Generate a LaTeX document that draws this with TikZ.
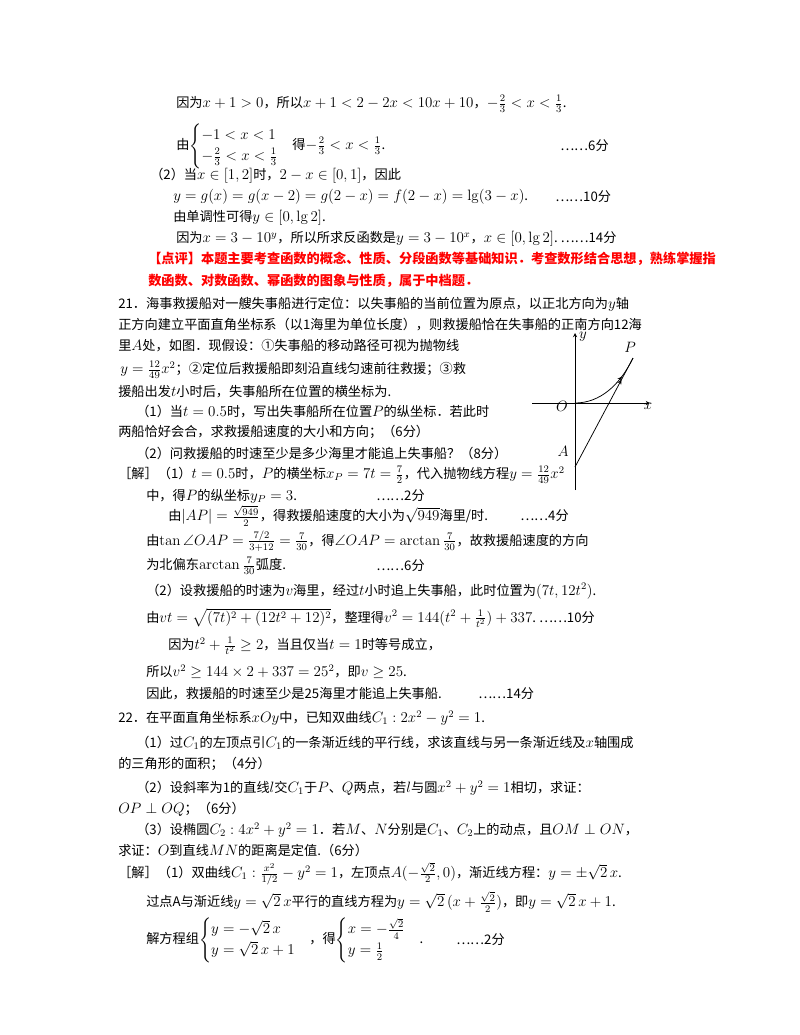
\documentclass[tikz,border=0pt]{standalone}
\usepackage{amsmath,amssymb}
\usepackage[no-math]{fontspec}
\setmainfont[Scale=0.88]{Noto Sans CJK SC}
\usetikzlibrary{decorations.markings}
\tikzset{ln/.style={anchor=west,inner sep=0pt,font=\large},
 pt/.style={anchor=west,inner sep=0pt,font=\large},
 rd/.style={ln,text=red},
 lab/.style={inner sep=0pt,font=\large\itshape\rmfamily},
 ax/.style={line width=0.5pt,-stealth}}
\begin{document}
\begin{tikzpicture}[x=0.8pt,y=-0.8pt]
\useasboundingbox (0,0) rectangle (800,1035);
\node[ln] (l1) at (176,104) {因为$x+1>0$，所以$x+1<2-2x<10x+10$，$-\tfrac23<x<\tfrac13$.};
\node[ln] (l2) at (176,146) {由$\begin{cases}-1<x<1\\ -\tfrac23<x<\tfrac13\end{cases}$得$-\tfrac23<x<\tfrac13$.};
\node[pt] (p2) at (560,146) {……6分};
\node[ln] (l3) at (150,176) {（2）当$x\in[1,2]$时，$2-x\in[0,1]$，因此};
\node[ln] (l4) at (173,197) {$y=g(x)=g(x-2)=g(2-x)=f(2-x)=\lg(3-x)$.};
\node[pt] (p4) at (555,197) {……10分};
\node[ln] (l5) at (173,218) {由单调性可得$y\in[0,\lg2]$.};
\node[ln] (l6) at (176,239) {因为$x=3-10^y$，所以所求反函数是$y=3-10^x$，$x\in[0,\lg2]$.~……14分};
\node[rd] (r1) at (148,259) {\textbf{【点评】本题主要考查函数的概念、性质、分段函数等基础知识．考查数形结合思想，熟练掌握指}};
\node[rd] (r2) at (148,281) {\textbf{数函数、对数函数、幂函数的图象与性质，属于中档题．}};
\node[ln] (a1) at (118,304) {21．海事救援船对一艘失事船进行定位：以失事船的当前位置为原点，以正北方向为$y$轴};
\node[ln] (a2) at (118,325) {正方向建立平面直角坐标系（以1海里为单位长度），则救援船恰在失事船的正南方向12海};
\node[ln] (a3) at (118,346) {里$A$处，如图．现假设：①失事船的移动路径可视为抛物线};
\node[ln] (a4) at (120,370) {$y=\tfrac{12}{49}x^2$；②定位后救援船即刻沿直线匀速前往救援；③救};
\node[ln] (a5) at (118,392) {援船出发$t$小时后，失事船所在位置的横坐标为.};
\node[ln] (a6) at (136,412) {（1）当$t=0.5$时，写出失事船所在位置$P$的纵坐标．若此时};
\node[ln] (a7) at (118,432) {两船恰好会合，求救援船速度的大小和方向；（6分）};
\node[ln] (a8) at (136,453) {（2）问救援船的时速至少是多少海里才能追上失事船？（8分）};
\node[ln] (b1) at (118,475) {［解］（1）$t=0.5$时，$P$的横坐标$x_P=7t=\tfrac72$，代入抛物线方程$y=\tfrac{12}{49}x^2$};
\node[ln] (b2) at (146,496) {中，得$P$的纵坐标$y_P=3$.};
\node[pt] (pb2) at (376,496) {……2分};
\node[ln] (b3) at (168,516) {由$|AP|=\tfrac{\sqrt{949}}{2}$，得救援船速度的大小为$\sqrt{949}$海里/时.};
\node[pt] (pb3) at (520,516) {……4分};
\node[ln] (b4) at (146,541) {由$\tan\angle OAP=\tfrac{7/2}{3+12}=\tfrac{7}{30}$，得$\angle OAP=\arctan\tfrac{7}{30}$，故救援船速度的方向};
\node[ln] (b5) at (146,566) {为北偏东$\arctan\tfrac{7}{30}$弧度.};
\node[pt] (pb5) at (376,566) {……6分};
\node[ln] (c1) at (146,591) {（2）设救援船的时速为$v$海里，经过$t$小时追上失事船，此时位置为$(7t,12t^2)$.};
\node[ln] (c2) at (146,618) {由$vt=\sqrt{(7t)^2+(12t^2+12)^2}$，整理得$v^2=144(t^2+\tfrac1{t^2})+337$.~……10分};
\node[ln] (c3) at (168,646) {因为$t^2+\tfrac1{t^2}\ge2$，当且仅当$t=1$时等号成立，};
\node[ln] (c4) at (146,672) {所以$v^2\ge144\times2+337=25^2$，即$v\ge25$.};
\node[ln] (c5) at (146,694) {因此，救援船的时速至少是25海里才能追上失事船.};
\node[pt] (pc5) at (478,694) {……14分};
\node[ln] (d1) at (118,718) {22．在平面直角坐标系$xOy$中，已知双曲线$C_1:2x^2-y^2=1$.};
\node[ln] (d2) at (136,743) {（1）过$C_1$的左顶点引$C_1$的一条渐近线的平行线，求该直线与另一条渐近线及$x$轴围成};
\node[ln] (d3) at (118,764) {的三角形的面积；（4分）};
\node[ln] (d4) at (136,788) {（2）设斜率为1的直线$l$交$C_1$于$P$、$Q$两点，若$l$与圆$x^2+y^2=1$相切，求证：};
\node[ln] (d5) at (118,809) {$OP\perp OQ$；（6分）};
\node[ln] (d6) at (136,830) {（3）设椭圆$C_2:4x^2+y^2=1$．若$M$、$N$分别是$C_1$、$C_2$上的动点，且$OM\perp ON$，};
\node[ln] (d7) at (118,850) {求证：$O$到直线$MN$的距离是定值.（6分）};
\node[ln] (e1) at (118,874) {［解］（1）双曲线$C_1:\tfrac{x^2}{1/2}-y^2=1$，左顶点$A(-\tfrac{\sqrt2}{2},0)$，渐近线方程：$y=\pm\sqrt2\,x$.};
\node[ln] (e2) at (146,902) {过点A与渐近线$y=\sqrt2\,x$平行的直线方程为$y=\sqrt2\,(x+\tfrac{\sqrt2}{2})$，即$y=\sqrt2\,x+1$.};
\node[ln] (e3) at (146,940) {解方程组$\begin{cases}y=-\sqrt2\,x\\ y=\sqrt2\,x+1\end{cases}$，得$\begin{cases}x=-\tfrac{\sqrt2}{4}\\ y=\tfrac12\end{cases}$.};
\node[pt] (pe3) at (456,940) {……2分};
% figure
\coordinate (Ob) at (575,403);
\coordinate (Yb) at (575,490); \coordinate (Yt) at (575,333);
\coordinate (Xl) at (532,403); \coordinate (Xr) at (650,403);
\coordinate (P) at (633,358); \coordinate (A) at (575,467);
\draw[ax] (Yb) -- (Yt);
\draw[ax] (Xl) -- (Xr);
\draw[line width=0.6pt,postaction={decorate},decoration={markings,mark=at position 0.72 with {\arrow{stealth}}}] (Ob) .. controls (600,403) and (620,385) .. (P);
\draw[line width=0.6pt,postaction={decorate},decoration={markings,mark=at position 0.8 with {\arrow{stealth}}}] (A) -- (P);
\node[lab] (ly) at (583,337) {$y$};
\node[lab] (lP) at (630,347) {$P$};
\node[lab] (lO) at (562,406) {$O$};
\node[lab] (lx) at (648,406) {$x$};
\node[lab] (lA) at (563,451) {$A$};
\end{tikzpicture}
\end{document}
